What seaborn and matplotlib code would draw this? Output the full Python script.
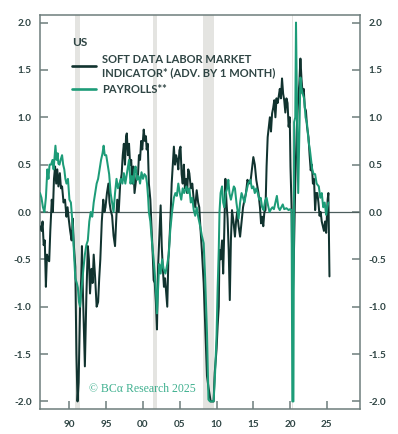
import numpy as np
import pandas as pd
import matplotlib
matplotlib.use("Agg")
import matplotlib.pyplot as plt
import seaborn as sns

# ---------------- data ----------------
soft_dates = [
    1986.0, 1986.2, 1986.35, 1986.5, 1986.65, 1986.8, 1986.95, 1987.1, 1987.25, 1987.4,
    1987.6, 1987.75, 1987.9, 1988.05, 1988.2, 1988.35, 1988.5, 1988.7, 1988.85, 1989.0,
    1989.2, 1989.4, 1989.6, 1989.75, 1989.9, 1990.1, 1990.3, 1990.45, 1990.6, 1990.8,
    1990.95, 1991.1, 1991.25, 1991.45, 1991.6, 1991.7, 1991.85, 1992.1, 1992.3, 1992.5,
    1992.65, 1992.8, 1993.0, 1993.15, 1993.3, 1993.5, 1993.7, 1993.9, 1994.05, 1994.2,
    1994.4, 1994.6, 1994.75, 1994.9, 1995.1, 1995.3, 1995.45, 1995.6, 1995.8, 1996.0,
    1996.2, 1996.35, 1996.5, 1996.7, 1996.9, 1997.1, 1997.25, 1997.4, 1997.55, 1997.7,
    1997.8, 1997.95, 1998.1, 1998.25, 1998.4, 1998.55, 1998.7, 1998.85, 1999.0, 1999.15,
    1999.3, 1999.45, 1999.6, 1999.75, 1999.9, 2000.1, 2000.25, 2000.4, 2000.5, 2000.65,
    2000.8, 2001.0, 2001.2, 2001.35, 2001.45, 2001.6, 2001.75, 2001.9, 2002.05, 2002.2,
    2002.4, 2002.55, 2002.7, 2002.85, 2003.0, 2003.15, 2003.3, 2003.45, 2003.6, 2003.75,
    2003.9, 2004.05, 2004.2, 2004.35, 2004.5, 2004.65, 2004.8, 2004.95, 2005.1, 2005.25,
    2005.4, 2005.55, 2005.7, 2005.85, 2006.0, 2006.15, 2006.3, 2006.5, 2006.7, 2006.9,
    2007.1, 2007.3, 2007.5, 2007.65, 2007.8, 2008.0, 2008.25, 2008.45, 2008.7, 2008.9,
    2009.2, 2009.4, 2009.6, 2009.75, 2010.0, 2010.15, 2010.3, 2010.4, 2010.55, 2010.75,
    2010.9, 2011.05, 2011.2, 2011.35, 2011.5, 2011.65, 2011.8, 2011.95, 2012.1, 2012.3,
    2012.5, 2012.65, 2012.8, 2013.0, 2013.2, 2013.4, 2013.6, 2013.8, 2014.0, 2014.2,
    2014.4, 2014.6, 2014.8, 2015.0, 2015.2, 2015.4, 2015.55, 2015.7, 2015.9, 2016.05,
    2016.2, 2016.35, 2016.5, 2016.65, 2016.8, 2016.95, 2017.1, 2017.25, 2017.4, 2017.55,
    2017.7, 2017.85, 2018.0, 2018.15, 2018.3, 2018.45, 2018.6, 2018.75, 2018.9, 2019.05,
    2019.2, 2019.35, 2019.5, 2019.65, 2019.8, 2019.95, 2020.05, 2020.2, 2020.35, 2020.5,
    2020.7, 2020.9, 2021.1, 2021.25, 2021.4, 2021.55, 2021.7, 2021.85, 2022.0, 2022.15,
    2022.3, 2022.5, 2022.65, 2022.8, 2022.95, 2023.1, 2023.25, 2023.4, 2023.55, 2023.7,
    2023.85, 2024.0, 2024.15, 2024.3, 2024.45, 2024.6, 2024.75, 2024.9, 2025.1, 2025.2,
    2025.35,
]
soft_values = [
    -0.15, -0.2, -0.1, -0.35, -0.3, -0.79, -0.45, -0.5, -0.52, -0.2,
    0.13, 0.0, 0.35, 0.48, 0.3, 0.45, 0.27, 0.41, 0.25, 0.27,
    0.1, 0.13, -0.05, 0.05, -0.07, -0.2, -0.3, -0.07, -0.35, -0.58,
    -1.5, -2.0, -1.8, -1.0, -0.7, -0.36, -0.9, -1.63, -0.9, -0.36,
    -0.5, -0.86, -0.6, -0.75, -0.45, -0.7, -1.0, -0.95, -0.7, -0.5,
    -0.1, 0.13, 0.0, 0.05, 0.2, 0.3, 0.1, 0.02, -0.04, -0.25,
    -0.36, -0.1, 0.13, 0.0, 0.3, 0.4, 0.6, 0.72, 0.5, 0.8,
    0.83, 0.6, 0.72, 0.5, 0.55, 0.3, 0.48, 0.2, 0.3, 0.4,
    0.35, 0.6, 0.55, 0.75, 0.66, 0.87, 0.75, 0.8, 0.66, 0.72,
    0.3, 0.13, -0.22, -0.5, -0.72, -0.75, -0.95, -1.24, -0.58, -0.3,
    0.07, -0.36, -0.6, -0.79, -0.7, -0.85, -1.0, -0.5, -0.3, -0.04,
    0.3, 0.5, 0.69, 0.5, 0.6, 0.55, 0.45, 0.65, 0.69, 0.4,
    0.3, 0.5, 0.25, 0.35, 0.2, 0.45, 0.41, 0.25, 0.3, 0.13,
    0.05, 0.23, 0.1, 0.05, -0.16, -0.4, -0.75, -1.2, -1.73, -1.85,
    -2.0, -2.0, -2.0, -1.7, -1.45, -1.2, -1.0, -0.4, -0.5, -0.3,
    -0.65, -0.2, 0.35, 0.1, -0.07, -0.4, -0.93, -0.3, 0.02, -0.1,
    -0.26, -0.1, 0.0, -0.15, -0.26, -0.1, 0.05, 0.13, 0.2, 0.34,
    0.3, 0.31, 0.45, 0.58, 0.5, 0.34, 0.27, 0.2, 0.05, -0.12,
    -0.05, -0.15, 0.0, 0.02, 0.48, 0.79, 0.9, 1.0, 0.85, 1.04,
    1.1, 1.18, 1.0, 1.2, 1.15, 1.22, 1.3, 1.2, 1.41, 1.25,
    1.18, 1.05, 1.2, 1.15, 0.9, 1.0, 0.48, 0.05, -0.96, -0.5,
    0.3, 0.86, 1.2, 1.35, 1.62, 1.4, 1.25, 1.3, 1.1, 1.07,
    0.9, 0.79, 0.6, 0.44, 0.5, 0.3, 0.35, 0.02, 0.2, 0.2,
    0.1, -0.04, 0.0, -0.1, -0.15, -0.2, -0.1, -0.22, 0.13, 0.2,
    -0.68,
]

payroll_dates = [
    1986.0, 1986.2, 1986.4, 1986.6, 1986.8, 1987.0, 1987.15, 1987.3, 1987.5, 1987.7,
    1987.85, 1988.0, 1988.1, 1988.25, 1988.4, 1988.5, 1988.65, 1988.8, 1989.0, 1989.15,
    1989.3, 1989.45, 1989.6, 1989.8, 1990.0, 1990.2, 1990.3, 1990.45, 1990.6, 1990.8,
    1991.0, 1991.15, 1991.3, 1991.45, 1991.6, 1991.75, 1991.9, 1992.1, 1992.3, 1992.5,
    1992.7, 1992.9, 1993.1, 1993.3, 1993.5, 1993.7, 1993.9, 1994.1, 1994.3, 1994.5,
    1994.65, 1994.8, 1995.0, 1995.2, 1995.4, 1995.6, 1995.8, 1996.0, 1996.2, 1996.4,
    1996.6, 1996.8, 1997.0, 1997.2, 1997.4, 1997.6, 1997.8, 1998.0, 1998.1, 1998.3,
    1998.5, 1998.7, 1998.85, 1999.0, 1999.2, 1999.4, 1999.6, 1999.8, 2000.0, 2000.2,
    2000.4, 2000.55, 2000.7, 2000.8, 2001.0, 2001.2, 2001.45, 2001.65, 2001.8, 2001.9,
    2002.05, 2002.2, 2002.4, 2002.6, 2002.8, 2003.05, 2003.3, 2003.5, 2003.7, 2003.95,
    2004.2, 2004.4, 2004.6, 2004.8, 2005.0, 2005.2, 2005.4, 2005.6, 2005.9, 2006.1,
    2006.3, 2006.5, 2006.7, 2006.9, 2007.1, 2007.3, 2007.5, 2007.8, 2008.0, 2008.25,
    2008.45, 2008.7, 2008.9, 2009.1, 2009.35, 2009.6, 2009.8, 2010.0, 2010.15, 2010.3,
    2010.4, 2010.55, 2010.75, 2010.9, 2011.05, 2011.25, 2011.45, 2011.6, 2011.75, 2011.95,
    2012.15, 2012.35, 2012.5, 2012.7, 2013.0, 2013.2, 2013.4, 2013.6, 2013.8, 2014.0,
    2014.3, 2014.6, 2014.8, 2015.0, 2015.2, 2015.4, 2015.6, 2015.8, 2016.0, 2016.2,
    2016.4, 2016.6, 2016.8, 2017.0, 2017.2, 2017.4, 2017.6, 2017.8, 2018.0, 2018.2,
    2018.4, 2018.6, 2018.8, 2019.0, 2019.2, 2019.5, 2019.8, 2020.0, 2020.2, 2020.3,
    2020.45, 2020.55, 2020.7, 2020.8, 2020.95, 2021.1, 2021.4, 2021.55, 2021.7, 2021.9,
    2022.1, 2022.3, 2022.5, 2022.7, 2022.85, 2023.0, 2023.2, 2023.4, 2023.6, 2023.9,
    2024.1, 2024.3, 2024.5, 2024.7, 2024.9, 2025.05, 2025.2,
]
payroll_values = [
    0.2, 0.15, 0.05, 0.0, 0.15, 0.45, 0.35, 0.5, 0.5, 0.55,
    0.45, 0.6, 0.7, 0.55, 0.62, 0.51, 0.5, 0.55, 0.6, 0.5,
    0.45, 0.35, 0.3, 0.35, 0.13, 0.1, 0.0, -0.15, -0.4, -0.7,
    -0.75, -0.8, -0.95, -1.0, -0.85, -0.72, -0.6, -0.45, -0.35, -0.3,
    -0.1, 0.0, -0.05, 0.1, 0.2, 0.3, 0.35, 0.45, 0.55, 0.62,
    0.7, 0.6, 0.6, 0.5, 0.4, 0.2, 0.1, 0.0, 0.2, 0.35,
    0.25, 0.3, 0.35, 0.3, 0.41, 0.3, 0.4, 0.5, 0.55, 0.3,
    0.38, 0.3, 0.45, 0.48, 0.34, 0.38, 0.3, 0.42, 0.35, 0.4,
    0.38, 0.3, 0.15, 0.0, -0.1, -0.3, -0.5, -0.7, -0.9, -1.07,
    -0.8, -0.55, -0.65, -0.5, -0.6, -0.65, -0.55, -0.45, -0.2, 0.0,
    0.15, 0.2, 0.17, 0.3, 0.2, 0.13, 0.25, 0.2, 0.27, 0.2,
    0.25, 0.1, 0.15, 0.02, -0.04, 0.05, -0.05, -0.16, -0.25, -0.33,
    -0.7, -1.28, -1.98, -2.0, -2.0, -2.0, -1.7, -1.3, -0.8, -0.4,
    0.0, 0.2, 0.27, 0.1, 0.05, 0.2, 0.25, 0.34, 0.2, 0.13,
    0.2, 0.27, 0.25, 0.1, -0.07, 0.1, 0.2, 0.15, 0.1, 0.2,
    0.3, 0.34, 0.25, 0.27, 0.2, 0.25, 0.2, 0.13, 0.15, 0.05,
    0.02, 0.12, 0.15, 0.07, 0.0, 0.03, 0.05, 0.03, 0.1, 0.17,
    0.05, 0.02, 0.05, 0.08, 0.03, 0.04, 0.02, 0.03, 0.02, -2.0,
    -2.0, 0.95, 1.0, 2.0, 1.0, 0.2, 1.42, 1.3, 1.25, 1.2,
    1.0, 0.93, 0.75, 0.65, 0.55, 0.45, 0.4, 0.4, 0.3, 0.27,
    0.15, 0.2, 0.05, 0.1, -0.03, 0.05, 0.1,
]

recessions = [(1990.7, 1991.4), (2001.4, 2001.95), (2008.1, 2009.6), (2020.2, 2020.35)]

soft_label = "SOFT DATA LABOR MARKET\nINDICATOR* (ADV. BY 1 MONTH)"
payroll_label = "PAYROLLS**"
x_ticks = [1990, 1995, 2000, 2005, 2010, 2015, 2020, 2025]
x_tick_labels = ["90", "95", "00", "05", "10", "15", "20", "25"]
y_ticks = [-2.0, -1.5, -1.0, -0.5, 0.0, 0.5, 1.0, 1.5, 2.0]

# ---------------- styling ----------------
sns.set_style("white")
plt.rcParams["font.family"] = ["Lato", "DejaVu Sans"]

DARK = "#11332f"
GREEN = "#1d9c78"
SPINE = "#6e7d7c"
TEXT = "#2f4544"

df = pd.concat([
    pd.DataFrame({"date": soft_dates, "value": soft_values, "series": soft_label}),
    pd.DataFrame({"date": payroll_dates, "value": payroll_values, "series": payroll_label}),
], ignore_index=True)

fig = plt.figure(figsize=(3.98, 4.34), dpi=100)
ax = fig.add_axes([40 / 398, 25 / 434, 320 / 398, 394 / 434])

for a, b in recessions:
    ax.axvspan(a, b, color="#e4e4e1", lw=0, zorder=0)

ax.axhline(0, color="#4d5e5d", lw=0.9, zorder=1)

sns.lineplot(data=df, x="date", y="value", hue="series",
             palette={soft_label: DARK, payroll_label: GREEN},
             hue_order=[soft_label, payroll_label],
             linewidth=1.45, ax=ax, zorder=3, estimator=None, sort=False)

ax.set_xlim(1986.0, 2029.5)
ax.set_ylim(-2.08, 2.08)
ax.set_xlabel("")
ax.set_ylabel("")
ax.set_xticks(x_ticks)
ax.set_xticklabels(x_tick_labels)
ax.set_yticks(y_ticks)
ax.set_yticklabels([f"{v:.1f}" for v in y_ticks])

for s in ax.spines.values():
    s.set_visible(True)
    s.set_color(SPINE)
    s.set_linewidth(1.1)

ax.tick_params(axis="both", direction="in", length=5.5, width=1.1, color=SPINE,
               labelcolor=TEXT, labelsize=7.2)
ax.tick_params(axis="y", left=True, right=True, labelleft=True, labelright=True, pad=6)
ax.tick_params(axis="x", bottom=True, top=False, pad=8)
for lab in ax.get_xticklabels() + ax.get_yticklabels():
    lab.set_fontweight("bold")

leg = ax.legend(title="US", loc="upper left", bbox_to_anchor=(0.068, 0.97),
                frameon=False, prop={"size": 8, "weight": "bold"},
                title_fontproperties={"size": 8.5, "weight": "bold"},
                handlelength=2.2, handletextpad=0.5, labelspacing=0.55,
                alignment="left", labelcolor=TEXT)
leg.get_title().set_color(TEXT)
for line in leg.get_lines():
    line.set_linewidth(1.9)

ax.text(0.152, 0.05, "© BCα Research 2025", transform=ax.transAxes,
        fontsize=8.5, color="#3fb08f", family=["Liberation Serif", "DejaVu Serif"],
        va="center", ha="left")

fig.savefig("out.png", dpi=100)
